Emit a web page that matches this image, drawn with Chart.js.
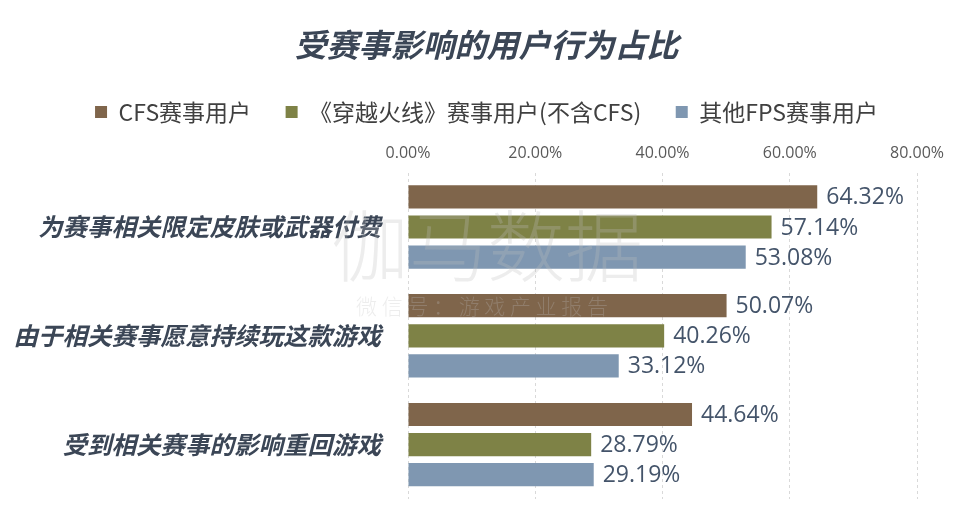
<!DOCTYPE html>
<html>
<head>
<meta charset="utf-8">
<script src="https://cdn.jsdelivr.net/npm/chart.js@4.4.1/dist/chart.umd.min.js"></script>
<style>
	html, body { margin: 0; padding: 0; background: #fff; }
	#wrap { width: 969px; height: 523px; }
</style>
</head>
<body>
<div id="wrap"><canvas id="myChart"></canvas></div>
<script>
// data
const behaviours = ['为赛事相关限定皮肤或武器付费', '由于相关赛事愿意持续玩这款游戏', '受到相关赛事的影响重回游戏'];
const seriesNames = ['CFS赛事用户', '《穿越火线》赛事用户(不含CFS)', '其他FPS赛事用户'];
const cfsUsers = [64.32, 50.07, 44.64];
const cfOtherUsers = [57.14, 40.26, 28.79];
const otherFpsUsers = [53.08, 33.12, 29.19];
const xTicks = [0, 20, 40, 60, 80];

const colors = ['#7f654b', '#7e8246', '#7f97b1'];
const textColor = '#44546a';
const cjk = '"Noto Sans CJK SC", "Noto Sans", sans-serif';

// value labels at the end of each bar
const barLabels = {
	id: 'barLabels',
	afterDatasetsDraw(chart) {
		const ctx = chart.ctx;
		ctx.save();
		ctx.font = '23px "Open Sans", sans-serif';
		ctx.fillStyle = textColor;
		ctx.textBaseline = 'middle';
		ctx.textAlign = 'left';
		chart.data.datasets.forEach((ds, i) => {
			const meta = chart.getDatasetMeta(i);
			meta.data.forEach((bar, j) => {
				ctx.fillText(ds.data[j].toFixed(2) + '%', bar.x + 9, bar.y + 1);
			});
		});
		ctx.restore();
	}
};

// faint watermark
const watermark = {
	id: 'watermark',
	afterDraw(chart) {
		const ctx = chart.ctx;
		ctx.save();
		ctx.fillStyle = 'rgba(190,190,190,0.28)';
		ctx.textAlign = 'center';
		ctx.textBaseline = 'middle';
		ctx.font = '300 78px ' + cjk;
		ctx.fillText('伽马数据', 487, 246);
		ctx.font = '300 21px ' + cjk;
		ctx.fillText('微 信 号 ： 游 戏 产 业 报 告', 482, 306);
		ctx.restore();
	}
};

const myChart = document.getElementById('myChart').getContext('2d');
const chart = new Chart(myChart, {
	type: 'bar',
	data: {
		labels: behaviours,
		datasets: [
			{ label: seriesNames[0], data: cfsUsers, backgroundColor: colors[0] },
			{ label: seriesNames[1], data: cfOtherUsers, backgroundColor: colors[1] },
			{ label: seriesNames[2], data: otherFpsUsers, backgroundColor: colors[2] }
		]
	},
	options: {
		indexAxis: 'y',
		responsive: true,
		maintainAspectRatio: false,
		animation: false,
		categoryPercentage: 0.83,
		barPercentage: 0.77,
		layout: { padding: { left: 4, right: 0, top: 20, bottom: 24 } },
		scales: {
			x: {
				position: 'top',
				min: 0,
				max: 80,
				afterBuildTicks: (axis) => { axis.ticks = xTicks.map(v => ({ value: v })); },
				grid: {
					color: '#d9d9d9',
					drawTicks: false
				},
				border: { display: false, dash: [3, 3] },
				ticks: {
					padding: 10,
					color: '#595959',
					font: { family: '"Open Sans", sans-serif', size: 16 },
					callback: (v) => v.toFixed(2) + '%'
				}
			},
			y: {
				// gap between labels and bars comes from the tick length,
				// so the tick padding does not eat vertical space
				grid: { display: false, drawTicks: true, tickLength: 27 },
				border: { display: false },
				afterFit: (axis) => { axis.width = 404; },
				ticks: {
					padding: 0,
					color: '#3b4656',
					font: { family: cjk, size: 24.5, weight: 'bold', style: 'italic' }
				}
			},
			// empty right margin so title and legend stay centred on the page
			yRight: {
				position: 'right',
				grid: { display: false },
				border: { display: false },
				ticks: { display: false },
				afterFit: (axis) => { axis.width = 52; }
			}
		},
		plugins: {
			title: {
				display: true,
				text: '受赛事影响的用户行为占比',
				color: '#3b4656',
				font: { family: cjk, size: 32, weight: 'bold', style: 'italic' },
				padding: { top: 6, bottom: 13 }
			},
			legend: {
				position: 'top',
				labels: {
					color: '#404040',
					boxWidth: 12,
					boxHeight: 12,
					padding: 23,
					font: { family: cjk, size: 23 },
					// en space after the first two names widens the gap between items
					generateLabels: (chart) => {
						const items = Chart.defaults.plugins.legend.labels.generateLabels(chart);
						items.forEach((item, i) => {
							if (i < items.length - 1) item.text += '\u2002';
						});
						return items;
					}
				}
			},
			tooltip: { enabled: false }
		}
	},
	plugins: [barLabels, watermark]
});
</script>
</body>
</html>
